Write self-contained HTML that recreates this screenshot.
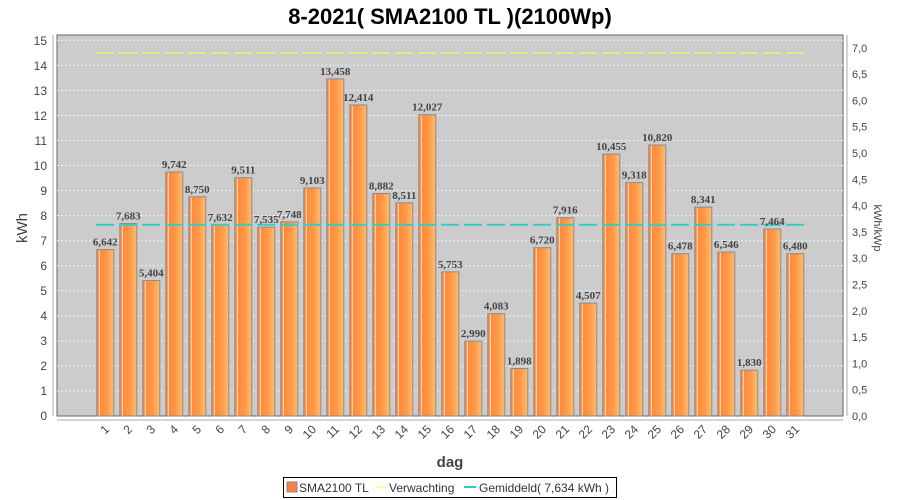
<!DOCTYPE html><html><head><meta charset="utf-8"><style>body{margin:0;background:#fff}svg{display:block}</style></head><body>
<svg width="900" height="500" xmlns="http://www.w3.org/2000/svg" font-family="Liberation Sans, sans-serif">
<defs><linearGradient id="g" x1="0" x2="1" y1="0" y2="0">
<stop offset="0" stop-color="#ff7a30"/><stop offset="0.1" stop-color="#ff8a40"/><stop offset="0.14" stop-color="#fff0e0"/><stop offset="0.2" stop-color="#ff8a3c"/><stop offset="0.6" stop-color="#ff9a48"/><stop offset="1" stop-color="#ffbf70"/></linearGradient></defs>
<text x="450" y="24" text-anchor="middle" font-size="22" font-weight="bold" fill="#000">8-2021( SMA2100 TL )(2100Wp)</text>
<rect x="57" y="35" width="786" height="381" fill="#cccccc" stroke="#666" stroke-width="1"/>
<g stroke="#f0f0f0" stroke-dasharray="2,2" stroke-width="1">
<line x1="57" x2="843" y1="391" y2="391"/><line x1="57" x2="843" y1="366" y2="366"/><line x1="57" x2="843" y1="341" y2="341"/><line x1="57" x2="843" y1="316" y2="316"/><line x1="57" x2="843" y1="290.8" y2="290.8"/><line x1="57" x2="843" y1="265.7" y2="265.7"/><line x1="57" x2="843" y1="240.7" y2="240.7"/><line x1="57" x2="843" y1="215.6" y2="215.6"/><line x1="57" x2="843" y1="190.6" y2="190.6"/><line x1="57" x2="843" y1="165.5" y2="165.5"/><line x1="57" x2="843" y1="140.5" y2="140.5"/><line x1="57" x2="843" y1="115.4" y2="115.4"/><line x1="57" x2="843" y1="90.4" y2="90.4"/><line x1="57" x2="843" y1="65.3" y2="65.3"/><line x1="57" x2="843" y1="40.3" y2="40.3"/>
</g>
<g fill="url(#g)" stroke="#8a8a8a" stroke-width="1">
<rect x="96.8" y="249.6" width="17" height="166.4"/><rect x="119.8" y="223.5" width="17" height="192.5"/><rect x="142.8" y="280.6" width="17" height="135.4"/><rect x="165.8" y="172" width="17" height="244"/><rect x="188.8" y="196.8" width="17" height="219.2"/><rect x="211.8" y="224.8" width="17" height="191.2"/><rect x="234.8" y="177.7" width="17" height="238.3"/><rect x="257.8" y="227.2" width="17" height="188.8"/><rect x="280.8" y="221.9" width="17" height="194.1"/><rect x="303.8" y="188" width="17" height="228"/><rect x="326.8" y="78.9" width="17" height="337.1"/><rect x="349.8" y="105" width="17" height="311"/><rect x="372.8" y="193.5" width="17" height="222.5"/><rect x="395.8" y="202.8" width="17" height="213.2"/><rect x="418.8" y="114.7" width="17" height="301.3"/><rect x="441.8" y="271.9" width="17" height="144.1"/><rect x="464.8" y="341.1" width="17" height="74.9"/><rect x="487.8" y="313.7" width="17" height="102.3"/><rect x="510.8" y="368.5" width="17" height="47.5"/><rect x="533.8" y="247.7" width="17" height="168.3"/><rect x="556.8" y="217.7" width="17" height="198.3"/><rect x="579.8" y="303.1" width="17" height="112.9"/><rect x="602.8" y="154.1" width="17" height="261.9"/><rect x="625.8" y="182.6" width="17" height="233.4"/><rect x="648.8" y="145" width="17" height="271"/><rect x="671.8" y="253.7" width="17" height="162.3"/><rect x="694.8" y="207.1" width="17" height="208.9"/><rect x="717.8" y="252" width="17" height="164"/><rect x="740.8" y="370.2" width="17" height="45.8"/><rect x="763.8" y="229" width="17" height="187"/><rect x="786.8" y="253.7" width="17" height="162.3"/>
</g>
<line x1="96" x2="804" y1="53" y2="53" stroke="#e8e880" stroke-width="2" stroke-dasharray="18,5"/>
<line x1="96" x2="804" y1="224.8" y2="224.8" stroke="#33cccc" stroke-width="2" stroke-dasharray="18,5"/>
<g font-family="Liberation Serif, serif" font-weight="bold" font-size="11" fill="#444" text-anchor="middle">
<text x="105.3" y="245.6">6,642</text><text x="128.3" y="219.5">7,683</text><text x="151.3" y="276.6">5,404</text><text x="174.3" y="168">9,742</text><text x="197.3" y="192.8">8,750</text><text x="220.3" y="220.8">7,632</text><text x="243.3" y="173.7">9,511</text><text x="266.3" y="223.2">7,535</text><text x="289.3" y="217.9">7,748</text><text x="312.3" y="184">9,103</text><text x="335.3" y="74.9">13,458</text><text x="358.3" y="101">12,414</text><text x="381.3" y="189.5">8,882</text><text x="404.3" y="198.8">8,511</text><text x="427.3" y="110.7">12,027</text><text x="450.3" y="267.9">5,753</text><text x="473.3" y="337.1">2,990</text><text x="496.3" y="309.7">4,083</text><text x="519.3" y="364.5">1,898</text><text x="542.3" y="243.7">6,720</text><text x="565.3" y="213.7">7,916</text><text x="588.3" y="299.1">4,507</text><text x="611.3" y="150.1">10,455</text><text x="634.3" y="178.6">9,318</text><text x="657.3" y="141">10,820</text><text x="680.3" y="249.7">6,478</text><text x="703.3" y="203.1">8,341</text><text x="726.3" y="248">6,546</text><text x="749.3" y="366.2">1,830</text><text x="772.3" y="225">7,464</text><text x="795.3" y="249.7">6,480</text>
</g>
<g stroke="#aaa"><line x1="53" x2="53" y1="35" y2="416"/><line x1="847" x2="847" y1="35" y2="416"/><line x1="57" x2="843" y1="420" y2="420"/></g>
<g font-size="12" fill="#444" text-anchor="end">
<text x="47" y="420">0</text><text x="47" y="395">1</text><text x="47" y="370">2</text><text x="47" y="345">3</text><text x="47" y="320">4</text><text x="47" y="295">5</text><text x="47" y="270">6</text><text x="47" y="245">7</text><text x="47" y="220">8</text><text x="47" y="195">9</text><text x="47" y="170">10</text><text x="47" y="145">11</text><text x="47" y="120">12</text><text x="47" y="95">13</text><text x="47" y="70">14</text><text x="47" y="45">15</text>
</g>
<g font-size="11" fill="#444">
<text x="852" y="420">0,0</text><text x="852" y="393.7">0,5</text><text x="852" y="367.4">1,0</text><text x="852" y="341.1">1,5</text><text x="852" y="314.8">2,0</text><text x="852" y="288.5">2,5</text><text x="852" y="262.2">3,0</text><text x="852" y="235.9">3,5</text><text x="852" y="209.6">4,0</text><text x="852" y="183.3">4,5</text><text x="852" y="157">5,0</text><text x="852" y="130.7">5,5</text><text x="852" y="104.4">6,0</text><text x="852" y="78.1">6,5</text><text x="852" y="51.8">7,0</text>
</g>
<g font-size="12" fill="#444" text-anchor="end">
<text transform="translate(110,430) rotate(-45)">1</text><text transform="translate(133,430) rotate(-45)">2</text><text transform="translate(156,430) rotate(-45)">3</text><text transform="translate(179,430) rotate(-45)">4</text><text transform="translate(202,430) rotate(-45)">5</text><text transform="translate(225,430) rotate(-45)">6</text><text transform="translate(248,430) rotate(-45)">7</text><text transform="translate(271,430) rotate(-45)">8</text><text transform="translate(294,430) rotate(-45)">9</text><text transform="translate(317,430) rotate(-45)">10</text><text transform="translate(340,430) rotate(-45)">11</text><text transform="translate(363,430) rotate(-45)">12</text><text transform="translate(386,430) rotate(-45)">13</text><text transform="translate(409,430) rotate(-45)">14</text><text transform="translate(432,430) rotate(-45)">15</text><text transform="translate(455,430) rotate(-45)">16</text><text transform="translate(478,430) rotate(-45)">17</text><text transform="translate(501,430) rotate(-45)">18</text><text transform="translate(524,430) rotate(-45)">19</text><text transform="translate(547,430) rotate(-45)">20</text><text transform="translate(570,430) rotate(-45)">21</text><text transform="translate(593,430) rotate(-45)">22</text><text transform="translate(616,430) rotate(-45)">23</text><text transform="translate(639,430) rotate(-45)">24</text><text transform="translate(662,430) rotate(-45)">25</text><text transform="translate(685,430) rotate(-45)">26</text><text transform="translate(708,430) rotate(-45)">27</text><text transform="translate(731,430) rotate(-45)">28</text><text transform="translate(754,430) rotate(-45)">29</text><text transform="translate(777,430) rotate(-45)">30</text><text transform="translate(800,430) rotate(-45)">31</text>
</g>
<text x="450" y="467" text-anchor="middle" font-size="15" font-weight="bold" fill="#444">dag</text>
<text transform="translate(27,228) rotate(-90)" text-anchor="middle" font-size="15" fill="#444">kWh</text>
<text transform="translate(874,228) rotate(90)" text-anchor="middle" font-size="11" fill="#444">kWh/kWp</text>
<rect x="283.5" y="477.5" width="333" height="20" fill="#fff" stroke="#000"/>
<rect x="287" y="482" width="10" height="10" fill="#ff8040" stroke="#888"/>
<text x="299" y="492" font-size="12" fill="#333">SMA2100 TL</text>
<line x1="376" x2="386" y1="487" y2="487" stroke="#ffff80" stroke-width="2"/>
<text x="389" y="492" font-size="12" fill="#333">Verwachting</text>
<line x1="464" x2="476" y1="487" y2="487" stroke="#22cccc" stroke-width="2"/>
<text x="479" y="492" font-size="12" fill="#333">Gemiddeld( 7,634 kWh )</text>
</svg></body></html>
